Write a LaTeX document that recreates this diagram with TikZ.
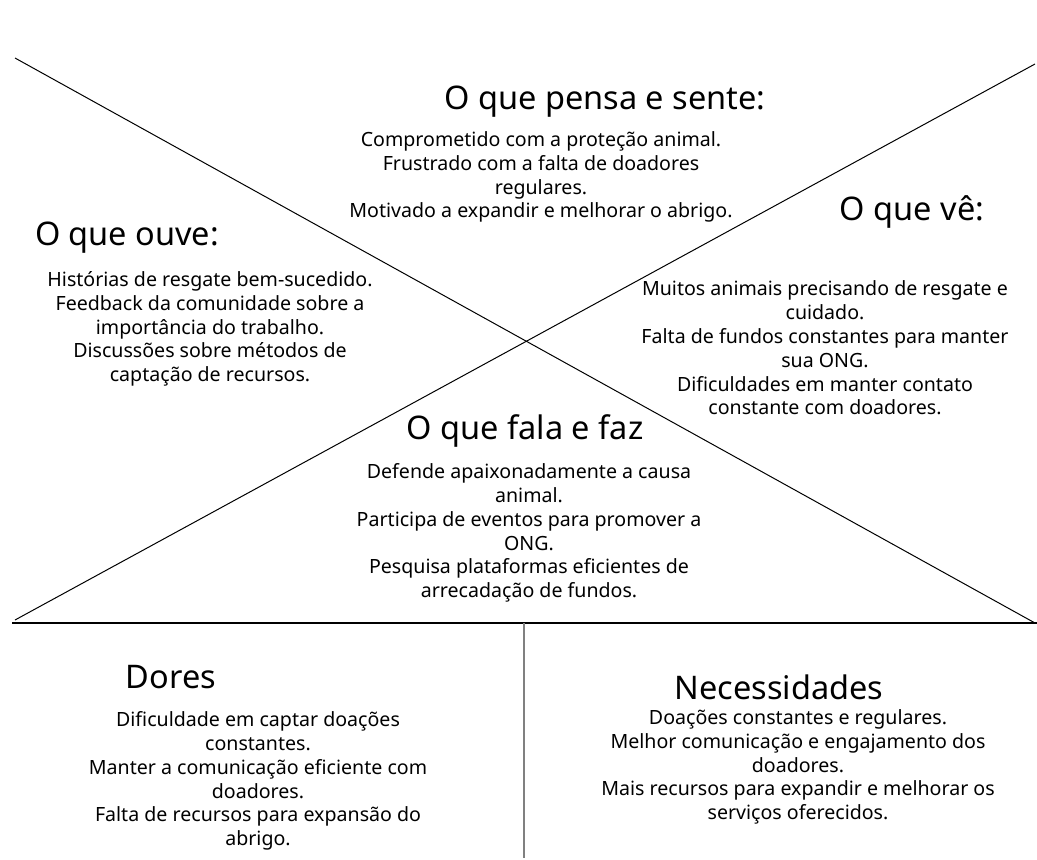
\documentclass[tikz,border=0pt]{standalone}
\usepackage{fontspec}
\setmainfont{Noto Sans}

\tikzset{
  titulo/.style={font=\fontsize{32.5}{36}\selectfont},
  corpo/.style={align=center, font=\fontsize{19.6}{23.8}\selectfont}
}

\begin{document}
\begin{tikzpicture}[x=1pt, y=-1pt]

            \useasboundingbox (0,0) rectangle (1037,860);

            % cantos do mapa
            \coordinate (ne) at (15,58);
            \coordinate (sd) at (1035,623);
            \coordinate (se) at (15,620);
            \coordinate (nd) at (1035,64);
            \coordinate (he) at (12,623);
            \coordinate (hd) at (1037,623);
            \coordinate (vc) at (524,623);
            \coordinate (vb) at (524,858);

            \draw[line width=1pt] (ne) -- (sd);
            \draw[line width=1pt] (se) -- (nd);
            \draw[line width=1.3pt] (he) -- (hd);
            \draw[line width=1.5pt, gray] (vc) -- (vb);

            % pensa e sente
            \node[titulo] (tpensa) at (605,102) {O que pensa e sente:};
            \node[corpo] (pensa) at (541,177) {Comprometido com a proteção animal.\\ Frustrado com a falta de doadores\\ regulares.\\ Motivado a expandir e melhorar o abrigo.};

            % ve
            \node[titulo] (tve) at (912,212) {O que vê:};
            \node[corpo] (ve) at (825,348) {Muitos animais precisando de resgate e\\ cuidado.\\ Falta de fundos constantes para manter\\ sua ONG.\\ Dificuldades em manter contato\\ constante com doadores.};

            % ouve
            \node[titulo] (touve) at (127,238) {O que ouve:};
            \node[corpo] (ouve) at (210,329) {Histórias de resgate bem-sucedido.\\ Feedback da comunidade sobre a\\ importância do trabalho.\\ Discussões sobre métodos de\\ captação de recursos.};

            % fala e faz
            \node[titulo] (tfala) at (525,431) {O que fala e faz};
            \node[corpo] (fala) at (529,533) {Defende apaixonadamente a causa\\ animal.\\ Participa de eventos para promover a\\ ONG.\\ Pesquisa plataformas eficientes de\\ arrecadação de fundos.};

            % dores
            \node[titulo] (tdores) at (171,677) {Dores};
            \node[corpo] (dores) at (258,781) {Dificuldade em captar doações\\ constantes.\\ Manter a comunicação eficiente com\\ doadores.\\ Falta de recursos para expansão do\\ abrigo.};

            % necessidades
            \node[titulo] (tnec) at (779,687) {Necessidades};
            \node[corpo] (nec) at (798,767) {Doações constantes e regulares.\\ Melhor comunicação e engajamento dos\\ doadores.\\ Mais recursos para expandir e melhorar os\\ serviços oferecidos.};

\end{tikzpicture}
\end{document}
